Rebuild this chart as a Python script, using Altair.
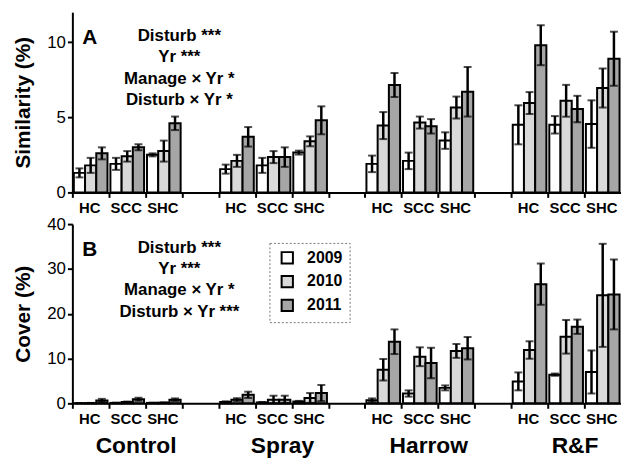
import altair as alt
import pandas as pd

disturb = ["Control", "Spray", "Harrow", "R&F"]
manage = ["HC", "SCC", "SHC"]
years = ["2009", "2010", "2011"]

sim_mean = [1.3, 1.8, 2.6, 1.9, 2.4, 3.0, 2.5, 2.75, 4.6,
            1.55, 2.1, 3.7, 1.8, 2.35, 2.35, 2.65, 3.4, 4.8,
            1.9, 4.45, 7.15, 2.1, 4.65, 4.4, 3.45, 5.65, 6.7,
            4.5, 5.95, 9.8, 4.5, 6.1, 5.55, 4.55, 6.95, 8.9]
sim_se = [0.3, 0.5, 0.4, 0.4, 0.35, 0.2, 0.1, 0.7, 0.45,
          0.3, 0.4, 0.65, 0.5, 0.4, 0.65, 0.13, 0.33, 0.93,
          0.55, 0.9, 0.8, 0.55, 0.4, 0.48, 0.55, 0.73, 1.65,
          1.3, 0.73, 1.33, 0.58, 1.06, 0.88, 1.58, 1.3, 1.8]

cov_mean = [0.05, 0.05, 0.65, 0.1, 0.3, 0.9, 0.1, 0.15, 0.8,
            0.3, 0.8, 1.9, 0.2, 0.8, 0.8, 0.4, 1.2, 2.3,
            0.7, 7.5, 13.75, 2.2, 10.4, 9.0, 3.45, 11.7, 12.3,
            4.9, 11.9, 26.6, 6.4, 14.85, 17.1, 7.0, 24.1, 24.3]
cov_se = [0.02, 0.05, 0.35, 0.05, 0.1, 0.35, 0.05, 0.05, 0.3,
          0.15, 0.35, 0.7, 0.1, 0.9, 0.9, 0.15, 1.1, 1.8,
          0.4, 2.4, 2.75, 0.7, 2.1, 3.4, 0.55, 1.55, 2.5,
          2.0, 1.95, 4.6, 0.25, 3.75, 1.6, 4.8, 11.5, 7.8]

stats_a = ["Disturb ***", "Yr ***", "Manage \u00d7 Yr *", "Disturb \u00d7 Yr *"]
stats_b = ["Disturb ***", "Yr ***", "Manage \u00d7 Yr *", "Disturb \u00d7 Yr ***"]

colors = ["#ffffff", "#d9d9d9", "#a6a6a6"]
FONT = "Liberation Sans"
W = 554

slots = []
for i, d in enumerate(disturb):
    for m in manage:
        slots.append(f"{d}|{m}")
    if i < len(disturb) - 1:
        slots.append(f"gap{i}")


def make_df(means, ses):
    rows = []
    k = 0
    for d in disturb:
        for m in manage:
            for y in years:
                rows.append({"slot": f"{d}|{m}", "year": y, "mean": means[k],
                             "lo": max(means[k] - ses[k], 0), "hi": means[k] + ses[k]})
                k += 1
    return pd.DataFrame(rows)


one = pd.DataFrame({"a": [0]})

legend = alt.Legend(title=None, orient="none", legendX=199, legendY=233,
                    symbolType="square", symbolSize=130, symbolOffset=3,
                    symbolStrokeColor="black", symbolStrokeWidth=2,
                    labelFontSize=16, labelFontWeight="bold",
                    labelColor="black", labelOffset=12, rowPadding=4,
                    padding=7, strokeColor="#777777")


def panel(means, ses, ytitle, ymax, yvals, h, letter, stats, bottom):
    df = make_df(means, ses)
    xenc = alt.X("slot:N", title=None,
                 scale=alt.Scale(domain=slots, paddingInner=0.08, paddingOuter=0.04),
                 axis=alt.Axis(labelExpr="indexof(datum.value,'gap') >= 0 ? '' : split(datum.value,'|')[1]",
                               bandPosition=0, tickOffset=-1.5, labelAngle=0, labelFontSize=15,
                               labelFontWeight="bold", labelColor="black", labelPadding=3,
                               domainColor="black", domainWidth=2, tickColor="black",
                               tickWidth=2, tickSize=5))
    xoff = alt.XOffset("year:N", scale=alt.Scale(domain=years, paddingInner=0, paddingOuter=0))
    yscale = alt.Scale(domain=[0, ymax], nice=False)
    base = alt.Chart(df).encode(x=xenc, xOffset=xoff)
    bars = base.mark_bar(stroke="black", strokeWidth=2).encode(
        y=alt.Y("mean:Q", scale=yscale,
                axis=alt.Axis(values=yvals, title=ytitle, titleFontSize=21, titleFontWeight="bold",
                              titleColor="black", titlePadding=13, labelFontSize=17,
                              labelColor="black", grid=False, domainColor="black", domainWidth=2,
                              tickColor="black", tickWidth=2, tickSize=5, labelPadding=2)),
        color=alt.Color("year:N", scale=alt.Scale(domain=years, range=colors), legend=legend))
    rule = base.mark_rule(color="black", strokeWidth=2.5).encode(
        y=alt.Y("lo:Q", scale=yscale), y2="hi:Q")
    cap_hi = base.mark_tick(color="black", thickness=2, size=8).encode(y=alt.Y("hi:Q", scale=yscale))
    cap_lo = base.mark_tick(color="black", thickness=2, size=8).encode(y=alt.Y("lo:Q", scale=yscale))
    layers = [bars, rule, cap_hi, cap_lo]
    layers.append(alt.Chart(one).mark_text(text=letter, fontSize=21, fontWeight="bold",
                                           align="center", baseline="alphabetic", color="black")
                  .encode(x=alt.value(17.5), y=alt.value(32)))
    for i, s in enumerate(stats):
        layers.append(alt.Chart(one).mark_text(text=s, fontSize=17, fontWeight="bold",
                                               align="center", baseline="alphabetic", color="black")
                      .encode(x=alt.value(108), y=alt.value(29.5 + 21.3 * i)))
    if bottom:
        ddf = pd.DataFrame({"slot": [f"{d}|SCC" for d in disturb], "label": disturb})
        layers.append(alt.Chart(ddf).mark_text(fontSize=23, fontWeight="bold", align="center",
                                               baseline="middle", color="black", dx=9)
                      .encode(x=alt.X("slot:N"), y=alt.value(h + 43), text="label:N"))
    return alt.layer(*layers).properties(width=W, height=h)


top = panel(sim_mean, sim_se, "Similarity (%)", 12, [0, 5, 10], 182, "A", stats_a, False)
bot = panel(cov_mean, cov_se, "Cover (%)", 40, [0, 10, 20, 30, 40], 181, "B", stats_b, True)

chart = alt.vconcat(top, bot, spacing=0).properties(
    padding={"left": 5, "top": 2, "right": 0, "bottom": 0}
).configure(font=FONT).configure_view(strokeWidth=0).configure_legend(strokeDash=[2, 2], strokeWidth=1)

chart.save("out.html", embed_options={"renderer": "svg", "actions": False})
